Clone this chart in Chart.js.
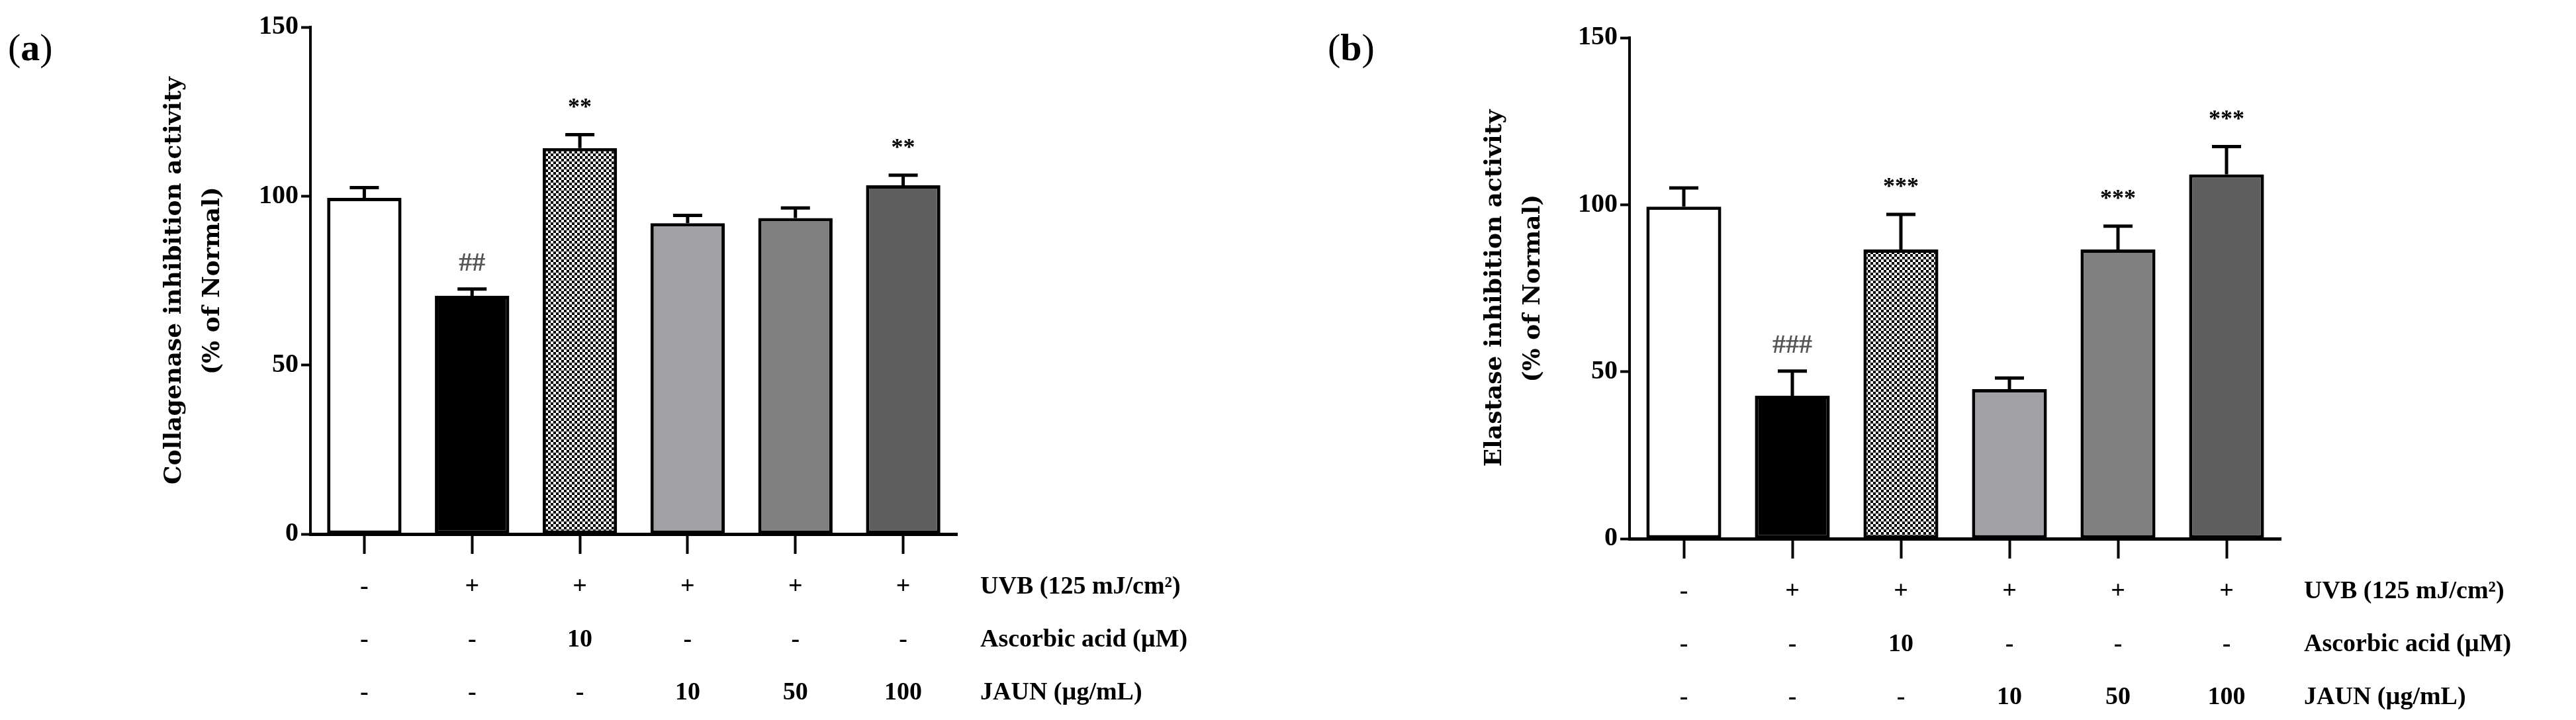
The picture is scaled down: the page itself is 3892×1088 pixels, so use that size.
<!DOCTYPE html>
<html><head><meta charset="utf-8">
<script src="https://cdn.jsdelivr.net/npm/chart.js@4/dist/chart.umd.min.js"></script>
<style>
html,body{margin:0;padding:0;background:#fff;width:3892px;height:1088px;overflow:hidden}
canvas{position:absolute;top:0}
.pl{position:absolute;font-family:'Liberation Serif',serif;font-size:58px;color:#000}
</style></head><body>
<canvas id="ca" width="1950" height="1088" style="left:0"></canvas>
<canvas id="cb" width="1942" height="1088" style="left:1950px"></canvas>
<div class="pl" style="left:12px;top:38px">(<b>a</b>)</div>
<div class="pl" style="left:2006px;top:38px">(<b>b</b>)</div>
<script>
const uvb = ['-','+','+','+','+','+'];
const ascorbic = ['-','-','10','-','-','-'];
const jaun = ['-','-','-','10','50','100'];
const rowTitles = ['UVB (125 mJ/cm\u00B2)','Ascorbic acid (\u00B5M)','JAUN (\u00B5g/mL)'];
const yTicks = [0,50,100,150];

const collagenase = [99.5, 70.5, 114.2, 92.0, 93.5, 103.2];
const collagenaseErr = [3.0, 2.0, 4.0, 2.3, 3.0, 3.0];
const collagenaseMarks = ['', '##', '**', '', '', '**'];

const elastase = [99.4, 42.8, 86.6, 44.8, 86.6, 109.1];
const elastaseErr = [5.6, 7.4, 10.5, 3.3, 7.0, 8.3];
const elastaseMarks = ['', '###', '***', '', '***', '***'];

function checker(){
  const c=document.createElement('canvas');c.width=8;c.height=8;
  const x=c.getContext('2d');x.fillStyle='#fff';x.fillRect(0,0,8,8);
  x.fillStyle='#000';x.fillRect(0,0,4,4);x.fillRect(4,4,4,4);
  return x.createPattern(c,'repeat');
}
const FONT='Liberation Serif';
const errPlugin={id:'err',afterDatasetsDraw(ch){
  const o=ch.options.plugins.err;const ctx=ch.ctx;const ys=ch.scales.y;
  const meta=ch.getDatasetMeta(0);
  ctx.save();ctx.strokeStyle='#000';ctx.lineWidth=5;
  meta.data.forEach((b,i)=>{
    const v=ch.data.datasets[0].data[i];const yt=ys.getPixelForValue(v+o.err[i]);
    ctx.beginPath();ctx.moveTo(b.x,b.y);ctx.lineTo(b.x,yt);
    ctx.moveTo(b.x-22,yt);ctx.lineTo(b.x+22,yt);ctx.stroke();
    if(o.marks[i]){
      const h=o.marks[i].startsWith('#');
      ctx.fillStyle=h?'#555':'#000';
      ctx.font='bold '+(h?40:36)+'px '+FONT;ctx.textAlign='center';ctx.textBaseline='bottom';
      ctx.fillText(o.marks[i],b.x,yt-(h?18:22));
    }
  });
  const xs=ch.scales.x;
  ctx.fillStyle='#000';ctx.font='bold 38px '+FONT;ctx.textAlign='left';ctx.textBaseline='middle';
  rowTitles.forEach((t,k)=>ctx.fillText(t,ch.chartArea.right+35,xs.top+80+k*80));
  ctx.restore();
}};
function make(id,data,err,marks,title,g){
  new Chart(document.getElementById(id),{
    type:'bar',
    data:{labels:uvb.map((u,i)=>[u,ascorbic[i],jaun[i]]),
      datasets:[{data,backgroundColor:['#ffffff','#000000',checker(),'#a2a2a6','#808080','#5e5e5e'],
        borderColor:'#000',borderWidth:5,borderSkipped:false,categoryPercentage:1,barPercentage:0.69}]},
    options:{responsive:false,devicePixelRatio:1,animation:false,
      layout:{padding:{left:g.left,top:g.top,right:g.right,bottom:0}},
      plugins:{legend:{display:false},tooltip:{enabled:false},err:{err,marks}},
      scales:{
        x:{offset:true,grid:{drawOnChartArea:false,offset:false,tickLength:30,tickColor:'#000',tickWidth:4},
          border:{color:'#000',width:5},
          ticks:{color:'#000',padding:10,font:{family:FONT,size:38,weight:'bold',lineHeight:80/38},maxRotation:0},
          afterFit:s=>{s.height=1088-g.bottom}},
        y:{min:0,max:150,afterBuildTicks:s=>{s.ticks=yTicks.map(v=>({value:v}))},
          grid:{drawOnChartArea:false,tickLength:14,tickColor:'#000',tickWidth:4},
          border:{color:'#000',width:4},
          ticks:{color:'#000',padding:4,font:{family:FONT,size:40,weight:'bold'}},
          title:{display:true,text:title,color:'#000',padding:0,font:{family:'DejaVu Serif',size:36,weight:'bold',lineHeight:1.6}},
          afterFit:s=>{s.width=g.axisX-g.left}}
      }},
    plugins:[errPlugin]});
}
make('ca',collagenase,collagenaseErr,collagenaseMarks,['Collagenase inhibition activity','(% of Normal)'],
  {left:235,top:41,right:1950-1446,bottom:807,axisX:469});
make('cb',elastase,elastaseErr,elastaseMarks,['Elastase inhibition activity','(% of Normal)'],
  {left:280,top:57,right:1942-1496,bottom:814,axisX:512});
</script></body></html>
